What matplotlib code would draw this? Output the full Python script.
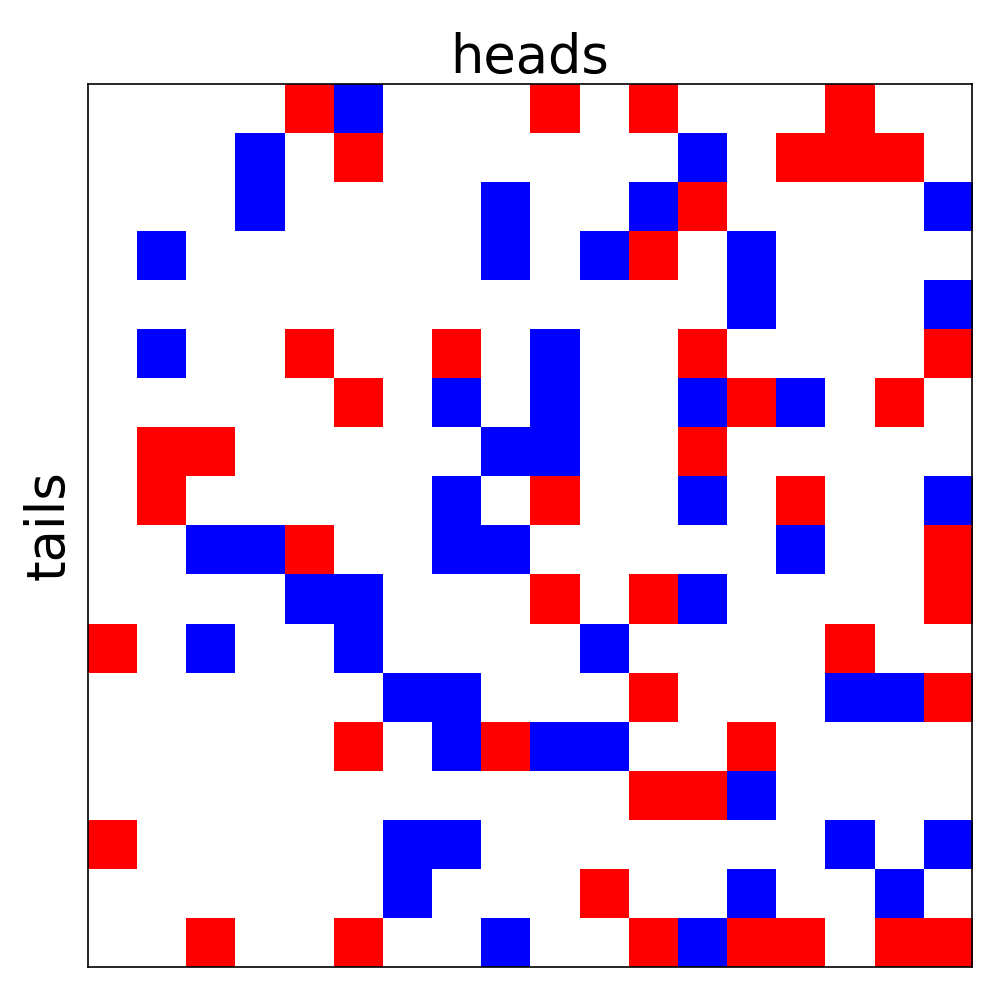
import matplotlib
matplotlib.use("Agg")
import matplotlib.pyplot as plt
import numpy as np
from matplotlib.colors import ListedColormap

# R = heads (red), B = tails (blue), . = empty
rows = [
    "....RB...R.R...R..",
    "...B.R......B.RRR.",
    "...B....B..BR....B",
    ".B......B.BR.B....",
    ".............B...B",
    ".B..R..R.B..R....R",
    ".....R.B.B..BRB.R.",
    ".RR.....BB..R.....",
    ".R.....B.R..B.R..B",
    "..BBR..BB.....B..R",
    "....BB...R.RB....R",
    "R.B..B....B....R..",
    "......BB...R...BBR",
    ".....R.BRBB..R....",
    "...........RRB....",
    "R.....BB.......B.B",
    "......B...R..B..B.",
    "..R..R..B..RBRR.RR",
]
codes = {"R": 1, "B": -1, ".": 0}
grid = np.array([[codes[c] for c in r] for r in rows])

fig = plt.figure(figsize=(9.97, 9.92), dpi=100)
ax = fig.add_axes([0.0883, 0.0252, 0.8867, 0.8901])
cmap = ListedColormap(["blue", "white", "red"])
ax.imshow(grid, cmap=cmap, vmin=-1, vmax=1, interpolation="nearest", aspect="auto")
ax.set_xticks([])
ax.set_yticks([])
for s in ax.spines.values():
    s.set_linewidth(1.2)
ax.set_title("heads", fontsize=38, pad=5)
ax.set_ylabel("tails", fontsize=38, labelpad=10)
fig.savefig("out.png", dpi=100)
